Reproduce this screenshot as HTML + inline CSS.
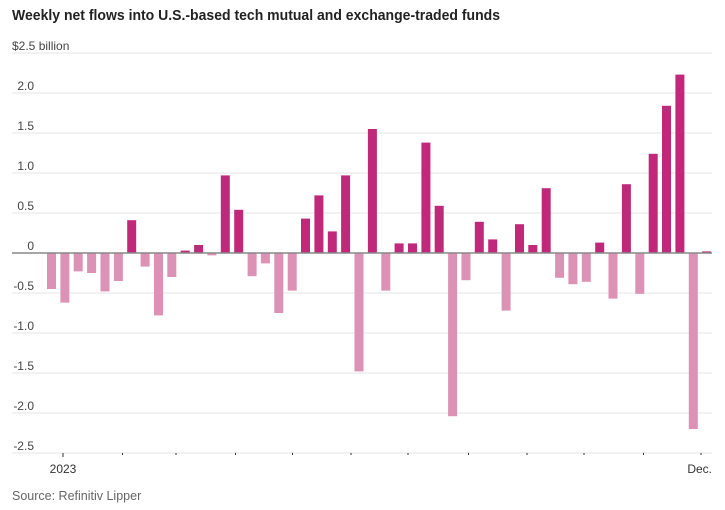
<!DOCTYPE html>
<html><head><meta charset="utf-8"><style>
html,body{margin:0;padding:0;background:#fff;}
svg{display:block;font-family:"Liberation Sans",sans-serif;}
</style></head><body>
<svg width="725" height="510" viewBox="0 0 725 510" xmlns="http://www.w3.org/2000/svg">
<text x="12" y="20" font-size="14.5" font-weight="bold" fill="#222" textLength="488" lengthAdjust="spacingAndGlyphs">Weekly net flows into U.S.-based tech mutual and exchange-traded funds</text>
<g stroke="#eeeeee" stroke-width="1.5">
<line x1="12" x2="712" y1="53" y2="53"/><line x1="12" x2="712" y1="93" y2="93"/><line x1="12" x2="712" y1="133" y2="133"/><line x1="12" x2="712" y1="173" y2="173"/><line x1="12" x2="712" y1="213" y2="213"/><line x1="12" x2="712" y1="293" y2="293"/><line x1="12" x2="712" y1="333" y2="333"/><line x1="12" x2="712" y1="373" y2="373"/><line x1="12" x2="712" y1="413" y2="413"/><line x1="12" x2="712" y1="453" y2="453"/>
</g>
<g font-size="12" fill="#444" text-anchor="end">
<text x="34" y="90">2.0</text><text x="34" y="130">1.5</text><text x="34" y="170">1.0</text><text x="34" y="210">0.5</text><text x="34" y="250">0</text><text x="34" y="290">-0.5</text><text x="34" y="330">-1.0</text><text x="34" y="370">-1.5</text><text x="34" y="410">-2.0</text><text x="34" y="450">-2.5</text>
</g>
<text x="12" y="50" font-size="12" fill="#444">$2.5 billion</text>
<g fill="#dc92b5">
<rect x="47" y="253" width="9" height="36"/><rect x="60.4" y="253" width="9" height="49.6"/><rect x="73.7" y="253" width="9" height="18.4"/><rect x="87.1" y="253" width="9" height="20"/><rect x="100.5" y="253" width="9" height="38.4"/><rect x="113.9" y="253" width="9" height="28"/><rect x="140.6" y="253" width="9" height="13.6"/><rect x="154" y="253" width="9" height="62.4"/><rect x="167.3" y="253" width="9" height="24"/><rect x="207.4" y="253" width="9" height="2.4"/><rect x="247.6" y="253" width="9" height="23.2"/><rect x="260.9" y="253" width="9" height="10.4"/><rect x="274.3" y="253" width="9" height="60"/><rect x="287.7" y="253" width="9" height="37.6"/><rect x="354.5" y="253" width="9" height="118.4"/><rect x="381.3" y="253" width="9" height="37.6"/><rect x="448.1" y="253" width="9" height="163.2"/><rect x="461.5" y="253" width="9" height="27.2"/><rect x="501.6" y="253" width="9" height="57.6"/><rect x="555.1" y="253" width="9" height="24.8"/><rect x="568.4" y="253" width="9" height="31.2"/><rect x="581.8" y="253" width="9" height="28.8"/><rect x="608.5" y="253" width="9" height="45.6"/><rect x="635.3" y="253" width="9" height="40.8"/><rect x="688.8" y="253" width="9" height="176"/>
</g>
<g fill="#c0297a">
<rect x="127.2" y="220.2" width="9" height="32.8"/><rect x="180.7" y="250.6" width="9" height="2.4"/><rect x="194.1" y="245" width="9" height="8"/><rect x="220.8" y="175.4" width="9" height="77.6"/><rect x="234.2" y="209.8" width="9" height="43.2"/><rect x="301" y="218.6" width="9" height="34.4"/><rect x="314.4" y="195.4" width="9" height="57.6"/><rect x="327.8" y="231.4" width="9" height="21.6"/><rect x="341.1" y="175.4" width="9" height="77.6"/><rect x="367.9" y="129" width="9" height="124"/><rect x="394.6" y="243.4" width="9" height="9.6"/><rect x="408" y="243.4" width="9" height="9.6"/><rect x="421.4" y="142.6" width="9" height="110.4"/><rect x="434.7" y="205.8" width="9" height="47.2"/><rect x="474.8" y="221.8" width="9" height="31.2"/><rect x="488.2" y="239.4" width="9" height="13.6"/><rect x="515" y="224.2" width="9" height="28.8"/><rect x="528.3" y="245" width="9" height="8"/><rect x="541.7" y="188.2" width="9" height="64.8"/><rect x="595.2" y="242.6" width="9" height="10.4"/><rect x="621.9" y="184.2" width="9" height="68.8"/><rect x="648.7" y="153.8" width="9" height="99.2"/><rect x="662" y="105.8" width="9" height="147.2"/><rect x="675.4" y="74.6" width="9" height="178.4"/><rect x="702.1" y="251.4" width="9" height="1.6"/>
</g>
<line x1="12" x2="712" y1="253" y2="253" stroke="#888" stroke-width="1.5"/>
<g stroke="#333" stroke-width="1">
<line x1="63" x2="63" y1="453" y2="457"/><line x1="122.5" x2="122.5" y1="453" y2="455"/><line x1="176" x2="176" y1="453" y2="455"/><line x1="235.5" x2="235.5" y1="453" y2="455"/><line x1="292.5" x2="292.5" y1="453" y2="455"/><line x1="351" x2="351" y1="453" y2="455"/><line x1="408" x2="408" y1="453" y2="455"/><line x1="468.5" x2="468.5" y1="453" y2="455"/><line x1="527" x2="527" y1="453" y2="455"/><line x1="584" x2="584" y1="453" y2="455"/><line x1="643.5" x2="643.5" y1="453" y2="455"/><line x1="701" x2="701" y1="453" y2="455"/>
</g>
<text x="63" y="473" font-size="12" fill="#333" text-anchor="middle">2023</text>
<text x="712" y="473" font-size="12" fill="#333" text-anchor="end">Dec.</text>
<text x="12" y="500" font-size="12.5" fill="#666">Source: Refinitiv Lipper</text>
</svg>
</body></html>
